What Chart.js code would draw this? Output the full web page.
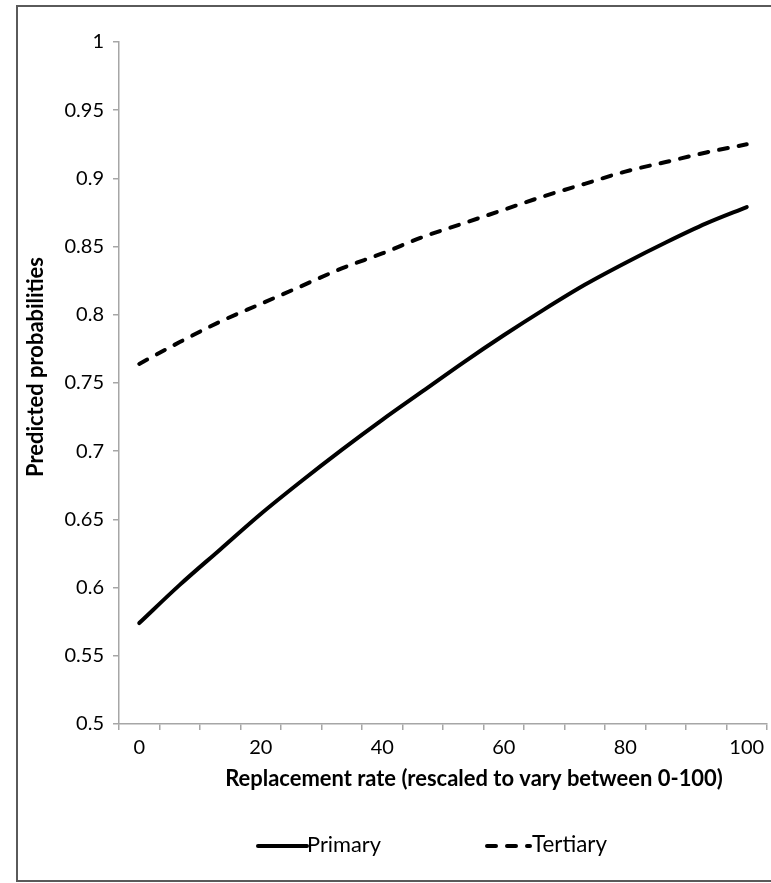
<!DOCTYPE html>
<html><head><meta charset="utf-8">
<script src="https://cdn.jsdelivr.net/npm/chart.js@4/dist/chart.umd.min.js"></script>
<style>
html,body{margin:0;padding:0;overflow:hidden;background:#fff;width:771px;height:883px;}
#wrap{position:absolute;left:0;top:0;width:771px;height:883px;}
#frame{position:absolute;left:16px;top:5px;width:820px;height:873px;border:2px solid #5a5a5a;pointer-events:none;}
</style></head>
<body>
<div id="wrap"><canvas id="c" width="771" height="883"></canvas></div>
<div id="frame"></div>
<script>
// ---- data ----
const replacementRate = [0, 6.67, 13.33, 20, 26.67, 33.33, 40, 46.67, 53.33, 60, 66.67, 73.33, 80, 86.67, 93.33, 100];
const primary  = [0.574, 0.602, 0.628, 0.654, 0.678, 0.701, 0.723, 0.744, 0.765, 0.785, 0.804, 0.822, 0.838, 0.853, 0.867, 0.879];
const tertiary = [0.764, 0.780, 0.795, 0.808, 0.821, 0.834, 0.845, 0.857, 0.867, 0.877, 0.887, 0.896, 0.905, 0.912, 0.919, 0.925];
const xTickLabels = ['0', '20', '40', '60', '80', '100'];
const yTickLabels = ['0.5', '0.55', '0.6', '0.65', '0.7', '0.75', '0.8', '0.85', '0.9', '0.95', '1'];
const seriesNames = ['Primary', 'Tertiary'];
const yAxisTitle = 'Predicted probabilities';
const xAxisTitle = 'Replacement rate (rescaled to vary between 0-100)';

const FAMILY = 'Lato, "Open Sans", sans-serif';
const TEXT = '#000';
const AXIS = '#a6a6a6';

function fitFont(ctx, text, weight, target) {
  ctx.font = weight + ' 100px ' + FAMILY;
  const w = ctx.measureText(text).width;
  return (100 * target / w);
}

const overlay = {
  id: 'overlay',
  afterDraw(chart) {
    const ctx = chart.ctx;
    ctx.save();
    ctx.fillStyle = TEXT;
    // y axis title
    let s = fitFont(ctx, yAxisTitle, 'bold', 220);
    ctx.font = 'bold ' + s + 'px ' + FAMILY;
    ctx.save();
    ctx.translate(36, 367);
    ctx.rotate(-Math.PI / 2);
    ctx.textAlign = 'center';
    ctx.textBaseline = 'middle';
    ctx.fillText(yAxisTitle, 0, 0);
    ctx.restore();
    // x axis title
    s = fitFont(ctx, xAxisTitle, 'bold', 498);
    ctx.font = 'bold ' + s + 'px ' + FAMILY;
    ctx.textAlign = 'center';
    ctx.textBaseline = 'middle';
    ctx.fillText(xAxisTitle, 474, 779);
    // legend
    const items = [{x0: 258, x1: 307, w: 74}, {x0: 485, x1: 532, w: 75}];
    const ly = 846;
    chart.data.datasets.forEach((ds, i) => {
      const it = items[i];
      ctx.save();
      ctx.strokeStyle = ds.borderColor;
      ctx.lineWidth = ds.borderWidth;
      ctx.lineCap = ds.borderCapStyle || 'butt';
      ctx.setLineDash(ds.borderDash || []);
      ctx.beginPath();
      ctx.moveTo(it.x0 + (ds.borderDash ? 2 : 0), ly);
      ctx.lineTo(it.x1 - (ds.borderDash ? 2 : 0), ly);
      ctx.stroke();
      ctx.restore();
      const fs = fitFont(ctx, ds.label, 'normal', it.w);
      ctx.font = fs + 'px ' + FAMILY;
      ctx.textAlign = 'left';
      ctx.textBaseline = 'middle';
      ctx.fillText(ds.label, it.x1, ly - 1);
    });
    ctx.restore();
  }
};

new Chart(document.getElementById('c'), {
  type: 'line',
  data: {
    labels: replacementRate,
    datasets: [
      { label: seriesNames[0], data: primary, borderColor: '#000', borderWidth: 4,
        pointRadius: 0, cubicInterpolationMode: 'monotone', fill: false, borderCapStyle: 'round' },
      { label: seriesNames[1], data: tertiary, borderColor: '#000', borderWidth: 4,
        pointRadius: 0, cubicInterpolationMode: 'monotone', fill: false, borderDash: [9, 11], borderCapStyle: 'round' }
    ]
  },
  options: {
    responsive: false,
    animation: false,
    devicePixelRatio: 1,
    layout: { padding: { top: 42, right: 4, bottom: 0, left: 0 } },
    plugins: { legend: { display: false }, tooltip: { enabled: false }, title: { display: false } },
    scales: {
      x: {
        type: 'category',
        offset: true,
        grid: { offset: true, drawOnChartArea: false, drawTicks: true, tickLength: 6, color: AXIS, lineWidth: 1.5 },
        border: { display: true, color: AXIS, width: 1.5 },
        ticks: {
          autoSkip: false, maxRotation: 0, minRotation: 0, padding: 6,
          font: { family: FAMILY, size: 20 }, color: TEXT,
          callback: (v, i) => (i % 3 === 0 ? xTickLabels[i / 3] : '')
        },
        afterFit: (s) => { s.height = 159; }
      },
      y: {
        min: 0.5, max: 1,
        grid: { drawOnChartArea: false, drawTicks: true, tickLength: 6, color: AXIS, lineWidth: 1.5 },
        border: { display: true, color: AXIS, width: 1.5 },
        ticks: {
          stepSize: 0.05, padding: 9,
          font: { family: FAMILY, size: 20 }, color: TEXT,
          callback: (v) => yTickLabels[Math.round((v - 0.5) / 0.05)]
        },
        afterFit: (s) => { s.width = 119; }
      }
    }
  },
  plugins: [overlay]
});
</script>
</body></html>
